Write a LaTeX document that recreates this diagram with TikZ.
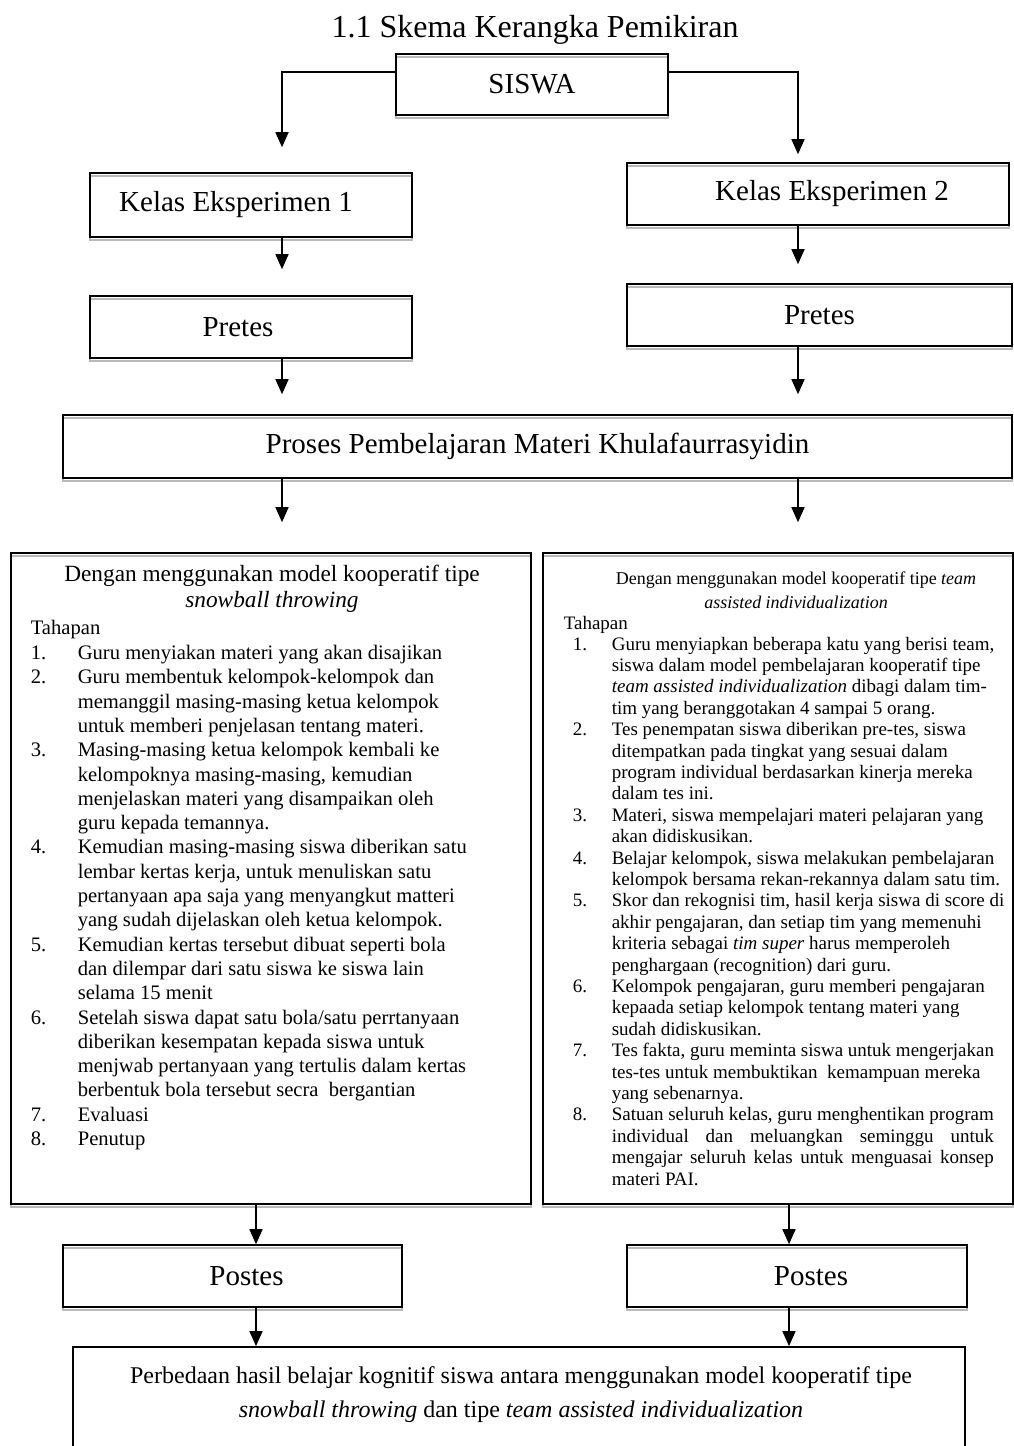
\documentclass[tikz,border=0pt]{standalone}
\usepackage{fontspec}
\usepackage{array}
\setmainfont{Liberation Serif}
\usetikzlibrary{arrows.meta,positioning}
\newcommand{\fontjudul}{\fontsize{32pt}{36pt}\selectfont}
\newcommand{\fontkotak}{\fontsize{29pt}{33pt}\selectfont}
\newcommand{\fontkiri}{\fontsize{20.6pt}{24.3pt}\selectfont}
\newcommand{\fontkanan}{\fontsize{19pt}{21.4pt}\selectfont}
\newcommand{\fontbawah}{\fontsize{24pt}{34pt}\selectfont}
\newlength{\lebarkanan}
\tikzset{
  kotak/.style={draw, line width=1.6pt, inner sep=0pt, font=\fontkotak,
    preaction={draw=gray!55, line width=1.3pt, transform canvas={yshift=-3pt}}},
  isi/.style={inner sep=0pt, align=left},
}
\begin{document}
\settowidth{\lebarkanan}{\fontkanan Satuan seluruh kelas, guru menghentikan program}
\begin{tikzpicture}[x=1pt,y=-1pt,>={Triangle[width=13pt,length=15pt]},line width=1.6pt]
\useasboundingbox (0,0) rectangle (1014,1446);
% kolom panah
\coordinate (kolA) at (282,0);
\coordinate (kolB) at (798,0);
\coordinate (kolC) at (256,0);
\coordinate (kolD) at (789,0);

\node[font=\fontjudul] (judul) at (535,30) {1.1 Skema Kerangka Pemikiran};
\node[kotak, minimum width=272pt, minimum height=61pt] (siswa) at (532,84.5) {SISWA};

\node[kotak, minimum width=322pt, minimum height=64pt] (kelas1) at (251,205) {Kelas Eksperimen 1\kern30pt};
\node[kotak, minimum width=382pt, minimum height=62pt] (kelas2) at (818,194) {\kern28pt Kelas Eksperimen 2};
\node[kotak, minimum width=322pt, minimum height=62pt] (pretes1) at (251,327) {Pretes\kern26pt};
\node[kotak, minimum width=385pt, minimum height=62pt] (pretes2) at (819.5,315) {Pretes};
\node[kotak, minimum width=949pt, minimum height=63pt] (proses) at (537.5,446.5) {Proses Pembelajaran Materi Khulafaurrasyidin};

% kotak model
\node[kotak, minimum width=520pt, minimum height=651pt] (snowball) at (271,878.5) {};
\node[kotak, minimum width=470pt, minimum height=651pt] (tai) at (778,878.5) {};

\node[isi, align=center, font=\fontsize{23.3pt}{26.5pt}\selectfont, anchor=north] (judulA) at (272,564)
  {Dengan menggunakan model kooperatif tipe\\ \textit{snowball throwing}};
\node[isi, font=\fontkiri, anchor=north west] (langkahA) at (30,619) {Tahapan\\[3pt]
\begin{tabular}{@{}w{l}{47pt}@{}l@{}}
1. & Guru menyiakan materi yang akan disajikan\\
2. & Guru membentuk kelompok-kelompok dan\\
   & memanggil masing-masing ketua kelompok\\
   & untuk memberi penjelasan tentang materi.\\
3. & Masing-masing ketua kelompok kembali ke\\
   & kelompoknya masing-masing, kemudian\\
   & menjelaskan materi yang disampaikan oleh\\
   & guru kepada temannya.\\
4. & Kemudian masing-masing siswa diberikan satu\\
   & lembar kertas kerja, untuk menuliskan satu\\
   & pertanyaan apa saja yang menyangkut matteri\\
   & yang sudah dijelaskan oleh ketua kelompok.\\
5. & Kemudian kertas tersebut dibuat seperti bola\\
   & dan dilempar dari satu siswa ke siswa lain\\
   & selama 15 menit\\
6. & Setelah siswa dapat satu bola/satu perrtanyaan\\
   & diberikan kesempatan kepada siswa untuk\\
   & menjwab pertanyaan yang tertulis dalam kertas\\
   & berbentuk bola tersebut secra\ \ bergantian\\
7. & Evaluasi\\
8. & Penutup
\end{tabular}};

\node[isi, align=center, font=\fontsize{18pt}{24pt}\selectfont, anchor=north] (judulB) at (796,571)
  {Dengan menggunakan model kooperatif tipe \textit{team}\\ \textit{assisted individualization}};
\node[isi, font=\fontkanan, anchor=north west] (langkahB) at (563,616) {Tahapan\\
\begin{tabular}{@{\hspace{9pt}}w{l}{39pt}@{}l@{}}
1. & Guru menyiapkan beberapa katu yang berisi team,\\
   & siswa dalam model pembelajaran kooperatif tipe\\
   & \textit{team assisted individualization} dibagi dalam tim-\\
   & tim yang beranggotakan 4 sampai 5 orang.\\
2. & Tes penempatan siswa diberikan pre-tes, siswa\\
   & ditempatkan pada tingkat yang sesuai dalam\\
   & program individual berdasarkan kinerja mereka\\
   & dalam tes ini.\\
3. & Materi, siswa mempelajari materi pelajaran yang\\
   & akan didiskusikan.\\
4. & Belajar kelompok, siswa melakukan pembelajaran\\
   & kelompok bersama rekan-rekannya dalam satu tim.\\
5. & Skor dan rekognisi tim, hasil kerja siswa di score di\\
   & akhir pengajaran, dan setiap tim yang memenuhi\\
   & kriteria sebagai \textit{tim super} harus memperoleh\\
   & penghargaan (recognition) dari guru.\\
6. & Kelompok pengajaran, guru memberi pengajaran\\
   & kepaada setiap kelompok tentang materi yang\\
   & sudah didiskusikan.\\
7. & Tes fakta, guru meminta siswa untuk mengerjakan\\
   & tes-tes untuk membuktikan\ \ kemampuan mereka\\
   & yang sebenarnya.\\
8. & Satuan seluruh kelas, guru menghentikan program\\
   & \makebox[\lebarkanan][s]{individual dan meluangkan seminggu untuk}\\
   & \makebox[\lebarkanan][s]{mengajar seluruh kelas untuk menguasai konsep}\\
   & materi PAI.
\end{tabular}};

\node[kotak, minimum width=339pt, minimum height=62pt] (postes1) at (232.5,1276) {\kern28pt Postes};
\node[kotak, minimum width=340pt, minimum height=62pt] (postes2) at (797,1276) {\kern28pt Postes};

% kotak hasil
\node[draw, line width=1.8pt, minimum width=892pt, minimum height=105pt, inner sep=0pt] (hasil) at (519,1399.5) {};
\node[isi, align=center, font=\fontbawah, anchor=north] (teksHasil) at (521,1366)
  {Perbedaan hasil belajar kognitif siswa antara menggunakan model kooperatif tipe\\
   \textit{snowball throwing} dan tipe \textit{team assisted individualization}};

% panah
\draw[->, shorten >=25pt] ([yshift=12.5pt]siswa.west) -| (kelas1.north -| kolA);
\draw[->, shorten >=8pt] ([yshift=12.5pt]siswa.east) -| (kelas2.north -| kolB);
\draw[->, shorten >=26pt] (kelas1.south -| kolA) -- (pretes1.north -| kolA);
\draw[->, shorten >=19pt] (kelas2.south -| kolB) -- (pretes2.north -| kolB);
\draw[->, shorten >=20pt] (pretes1.south -| kolA) -- (proses.north -| kolA);
\draw[->, shorten >=20pt] (pretes2.south -| kolB) -- (proses.north -| kolB);
\draw[->, shorten >=30pt] (proses.south -| kolA) -- (snowball.north -| kolA);
\draw[->, shorten >=30pt] (proses.south -| kolB) -- (tai.north -| kolB);
\draw[->] (snowball.south -| kolC) -- (postes1.north -| kolC);
\draw[->] (tai.south -| kolD) -- (postes2.north -| kolD);
\draw[->] (postes1.south -| kolC) -- (hasil.north -| kolC);
\draw[->] (postes2.south -| kolD) -- (hasil.north -| kolD);
\end{tikzpicture}
\end{document}
